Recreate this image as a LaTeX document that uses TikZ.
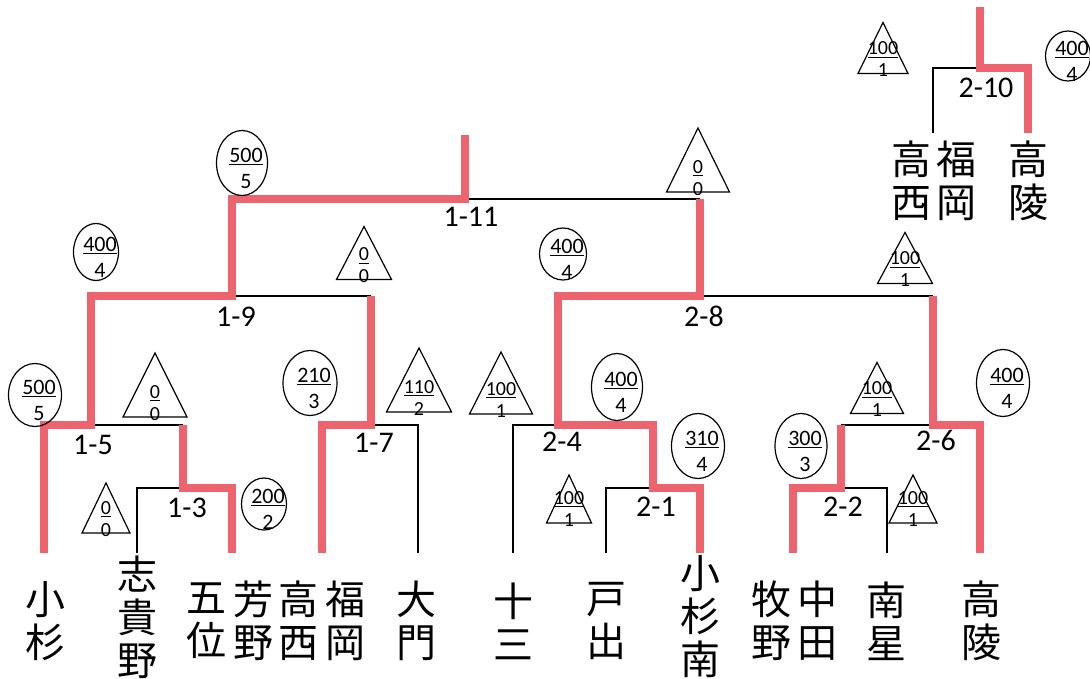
\documentclass[tikz,border=0pt]{standalone}
\usepackage{fontspec}
\setmainfont{Carlito}
\newfontfamily\jpfont{Noto Sans CJK JP}
\usetikzlibrary{calc}
\definecolor{winred}{RGB}{238,100,110}
\newcommand\numbar[1]{\vtop{\hbox{#1}\kern1.5pt\hrule height 1.1pt}}

\begin{document}
\begin{tikzpicture}[x=1pt,y=-1pt,
    win/.style={winred, line width=8pt},
    lose/.style={black, line width=1.5pt},
    match/.style={font=\fontsize{30}{32}\selectfont, inner sep=0pt},
    school/.style={font=\jpfont\fontsize{40}{43}\selectfont, align=center, inner sep=0pt},
    scoreline/.style={draw, line width=1.2pt},
    frc/.style={align=center, inner sep=0pt, font=\fontsize{22}{26}\selectfont},
    trifrc/.style={frc, font=\fontsize{20}{22}\selectfont}]
    \useasboundingbox (0,0) rectangle (1090,679);
    \fill[white] (0,0) rectangle (1090,679);

    % leaves
    \coordinate (kosugi) at (44,553);
    \coordinate (shikino) at (137,553);
    \coordinate (goi) at (232,553);
    \coordinate (takanishi) at (322,553);
    \coordinate (daimon) at (418,553);
    \coordinate (jusan) at (513,553);
    \coordinate (toide) at (606,553);
    \coordinate (kminami) at (700,553);
    \coordinate (makino) at (793,553);
    \coordinate (nansei) at (887,553);
    \coordinate (koryo) at (980,553);
    % junctions
    \coordinate (m13) at (183,488);
    \coordinate (m15) at (91,425);
    \coordinate (m17) at (371,425);
    \coordinate (m19) at (232,296);
    \coordinate (m111) at (465,199);
    \coordinate (final) at (465,135);
    \coordinate (m21) at (653,488);
    \coordinate (m22) at (841,488);
    \coordinate (m24) at (558,425);
    \coordinate (m26) at (933,425);
    \coordinate (m28) at (700,296);
    \coordinate (tnishi) at (933,133);
    \coordinate (tkoryo) at (1028,133);
    \coordinate (m210) at (980,68);
    \coordinate (ttop) at (980,7);

    % lost
    \draw[lose] (shikino) |- (m13);
    \draw[lose] (m15) -- (m13 |- m15);
    \draw[lose] (daimon) |- (m17);
    \draw[lose] (m19) -- (m17 |- m19);
    \draw[lose] (m111) -- (m28 |- m111);
    \draw[lose] (jusan) |- (m24);
    \draw[lose] (toide) |- (m21);
    \draw[lose] (nansei) |- (m22);
    \draw[lose] (m22 |- m26) -- (m26);
    \draw[lose] (m28) -- (m26 |- m28);
    \draw[lose] (tnishi) |- (m210);

    % won
    \draw[win] (kosugi) |- (m15) |- (m19) |- (m111) -- (final);
    \draw[win] (goi) |- (m13) -- (m13 |- m15);
    \draw[win] (takanishi) |- (m17) -- (m17 |- m19);
    \draw[win] (kminami) |- (m21) |- (m24) |- (m28) -- (m28 |- m111);
    \draw[win] (makino) |- (m22) -- (m22 |- m26);
    \draw[win] (koryo) |- (m26) -- (m26 |- m28);
    \draw[win] (tkoryo) |- (m210) -- (ttop);

    % match numbers
    \node[match] (l13) at (187,508) {1-3};
    \node[match] (l15) at (93,445) {1-5};
    \node[match] (l17) at (374,443) {1-7};
    \node[match] (l19) at (236,317) {1-9};
    \node[match] (l111) at (471,217) {1-11};
    \node[match] (l21) at (656,507) {2-1};
    \node[match] (l24) at (562,442) {2-4};
    \node[match] (l22) at (843,507) {2-2};
    \node[match] (l26) at (936,440) {2-6};
    \node[match] (l28) at (704,316) {2-8};
    \node[match] (l210) at (986,88) {2-10};

    % schools
    \node[school] (n-kosugi) at (45,621) {小\\杉};
    \node[school] (n-shikino) at (137,617) {志\\貴\\野};
    \node[school] (n-goi) at (206,621) {五\\位};
    \node[school] (n-yoshino) at (253,621) {芳\\野};
    \node[school] (n-takanishi) at (298,621) {高\\西};
    \node[school] (n-fukuoka) at (345,621) {福\\岡};
    \node[school] (n-daimon) at (416,621) {大\\門};
    \node[school] (n-jusan) at (513,621) {十\\三};
    \node[school] (n-toide) at (606,621) {戸\\出};
    \node[school] (n-kminami) at (700,617) {小\\杉\\南};
    \node[school] (n-makino) at (771,621) {牧\\野};
    \node[school] (n-nakada) at (817,621) {中\\田};
    \node[school] (n-nansei) at (886,621) {南\\星};
    \node[school] (n-koryo) at (981,621) {高\\陵};
    \node[school] (t-takanishi) at (911,181) {高\\西};
    \node[school] (t-fukuoka) at (956,181) {福\\岡};
    \node[school] (t-koryo) at (1028,181) {高\\陵};

    % scores in ovals
    \foreach \x/\y/\w/\h/\a/\b [count=\i] in {35/395/53/63/500/5, 242/163/51/65/500/5,
        96/252/45/57/400/4, 310/383/54/65/210/3, 264/504/45/52/200/2, 563/254/47/52/400/4,
        617/387/51/67/400/4, 698/446/53/65/310/4, 801/446/52/65/300/3, 1003/383/53/67/400/4,
        1068/56/45/50/400/4} {
        \draw[scoreline] (\x,\y) ellipse [x radius=\w/2, y radius=\h/2];
        \node[frc] (sc\i) at (\x+4,\y+5) {\numbar{\a}\\\b};
    }
    % scores in triangles
    \foreach \x/\y/\w/\h/\a/\b [count=\i] in {155/385/64/64/0/0, 106/508/48/50/0/0,
        364/253/55/53/0/0, 419/380/65/64/110/2, 501/383/63/62/100/1, 698/160/63/64/0/0,
        905/258/55/51/100/1, 877/388/53/51/100/1, 569/499/45/48/100/1, 913/499/48/48/100/1,
        883/48/50/51/100/1} {
        \draw[scoreline] (\x-\w/2,\y+\h/2) -- (\x,\y-\h/2) -- (\x+\w/2,\y+\h/2) -- cycle;
        \node[trifrc] (tr\i) at (\x,\y+\h/2-14) {\numbar{\a}\\\b};
    }
\end{tikzpicture}
\end{document}
